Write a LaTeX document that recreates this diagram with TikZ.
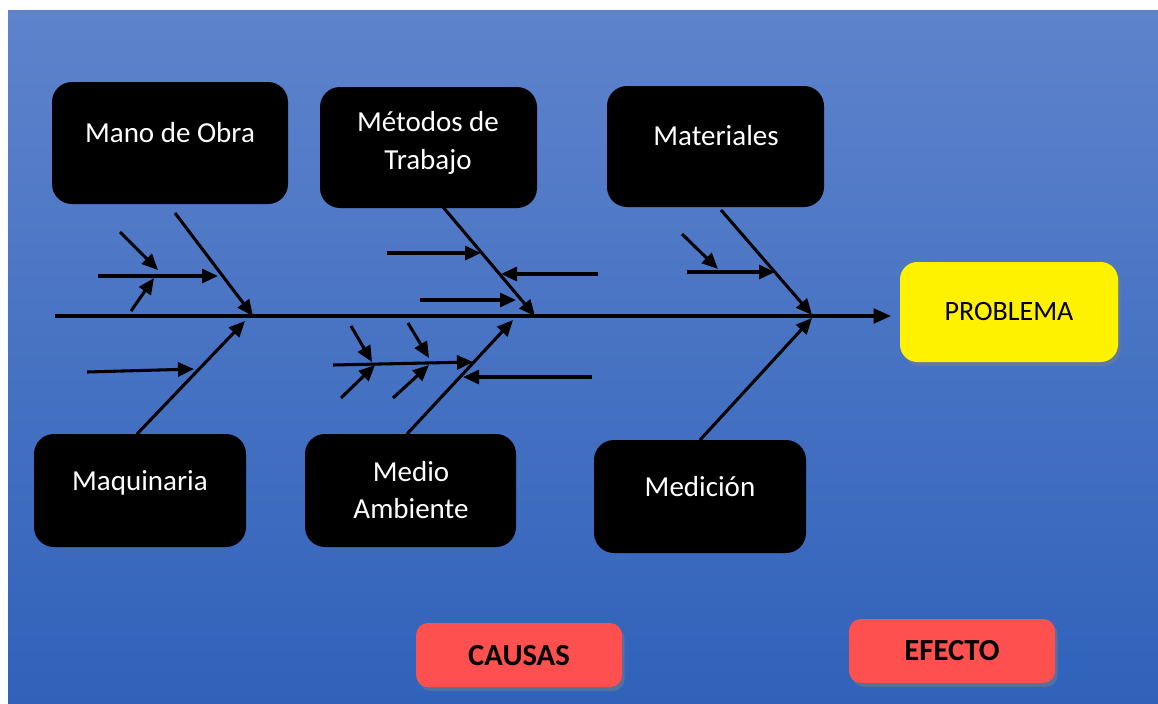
\documentclass[tikz,border=0pt]{standalone}
\usepackage{fontspec}
\setmainfont{Carlito}
\usetikzlibrary{arrows.meta,shadows}
\definecolor{bgtop}{RGB}{94,131,204}
\definecolor{bgbot}{RGB}{48,98,186}
\definecolor{redbox}{RGB}{255,80,80}
\begin{document}
\begin{tikzpicture}[x=0.75pt,y=-0.75pt,
  arr/.style={line width=2.3pt,-{Triangle[length=12pt,width=10.5pt]}},
  spine/.style={line width=2.3pt,-{Triangle[length=13pt,width=11pt]}},
  catbox/.style={fill=black,rounded corners=15pt,inner sep=0pt},
  cattxt/.style={text=white,font=\fontsize{21.75}{28}\selectfont,align=center,inner sep=0pt},
  tagbox/.style={fill=redbox,rounded corners=9pt,inner sep=0pt,minimum width=154.5pt,minimum height=48pt,
    drop shadow={opacity=0.45,shadow xshift=2pt,shadow yshift=-3pt}},
  tagtxt/.style={font=\fontsize{23}{28}\selectfont\bfseries,inner sep=0pt}]
\useasboundingbox (0,0) rectangle (1158,704);
\fill[white] (0,0) rectangle (1158,704);
\shade[top color=bgtop,bottom color=bgbot] (8,10) rectangle (1158,704);

% category boxes
\node[catbox,minimum width=177pt,minimum height=91.5pt] (mo) at (170,143) {};
\node[catbox,minimum width=162.75pt,minimum height=90.75pt] (mt) at (428.5,147.5) {};
\node[catbox,minimum width=162.75pt,minimum height=90.75pt] (ma) at (715.5,146.5) {};
\node[catbox,minimum width=159pt,minimum height=84.75pt] (mq) at (140,490.5) {};
\node[catbox,minimum width=158.25pt,minimum height=84.75pt] (me) at (410.5,490.5) {};
\node[catbox,minimum width=159pt,minimum height=84.75pt] (md) at (700,496.5) {};

\node[cattxt,anchor=base] (tmo) at (170,142) {Mano de Obra};
\node[cattxt] (tmt) at (428,143) {Métodos de\\Trabajo};
\node[cattxt,anchor=base] (tma) at (716,145) {Materiales};
\node[cattxt,anchor=base] (tmq) at (140,490) {Maquinaria};
\node[cattxt] (tme) at (411,490) {Medio\\Ambiente};
\node[cattxt,anchor=base] (tmd) at (700,496) {Medición};

% problem box
\node[fill=yellow,rounded corners=13pt,minimum width=163.5pt,minimum height=75pt,inner sep=0pt,
  drop shadow={opacity=0.45,shadow xshift=2pt,shadow yshift=-3pt},
  font=\fontsize{21}{26}\selectfont] (pb) at (1009,312) {PROBLEMA};

% labels
\node[tagbox] (ca) at (519,655) {};
\node[tagtxt] (tca) at (519,656) {CAUSAS};
\node[tagbox] (ef) at (952,651) {};
\node[tagtxt] (tef) at (952,651) {EFECTO};

% spine
\coordinate (s0) at (55,316);
\coordinate (s1) at (891,316);
\draw[spine] (s0) -- (s1);

% main bones
\coordinate (b1a) at (175,213); \coordinate (b1b) at (253,316);
\coordinate (b2a) at (443,207); \coordinate (b2b) at (535,316);
\coordinate (b3a) at (721,210); \coordinate (b3b) at (812,315);
\coordinate (b4a) at (137,434); \coordinate (b4b) at (245,321);
\coordinate (b5a) at (407,434); \coordinate (b5b) at (513,320);
\coordinate (b6a) at (700,440); \coordinate (b6b) at (812,318);
\draw[arr] (b1a) -- (b1b);
\draw[arr] (b2a) -- (b2b);
\draw[arr] (b3a) -- (b3b);
\draw[arr] (b4a) -- (b4b);
\draw[arr] (b5a) -- (b5b);
\draw[arr] (b6a) -- (b6b);

% minor arrows - Mano de Obra
\coordinate (m1a) at (98,276); \coordinate (m1b) at (218,276);
\coordinate (m2a) at (120,232); \coordinate (m2b) at (158,270);
\coordinate (m3a) at (131,311); \coordinate (m3b) at (154,278);
\draw[arr] (m1a) -- (m1b);
\draw[arr] (m2a) -- (m2b);
\draw[arr] (m3a) -- (m3b);
% Maquinaria
\coordinate (q1a) at (87,372); \coordinate (q1b) at (194,369);
\draw[arr] (q1a) -- (q1b);
% Metodos
\coordinate (t1a) at (387,253); \coordinate (t1b) at (481,253);
\coordinate (t2a) at (598,274); \coordinate (t2b) at (501,274);
\coordinate (t3a) at (420,300); \coordinate (t3b) at (516,300);
\draw[arr] (t1a) -- (t1b);
\draw[arr] (t2a) -- (t2b);
\draw[arr] (t3a) -- (t3b);
% Medio Ambiente
\coordinate (e1a) at (333,365); \coordinate (e1b) at (473,362);
\coordinate (e2a) at (592,377); \coordinate (e2b) at (463,377);
\coordinate (e3a) at (351,326); \coordinate (e3b) at (372,362);
\coordinate (e4a) at (408,323); \coordinate (e4b) at (429,358);
\coordinate (e5a) at (341,398); \coordinate (e5b) at (375,365);
\coordinate (e6a) at (393,398); \coordinate (e6b) at (429,365);
\draw[arr] (e1a) -- (e1b);
\draw[arr] (e2a) -- (e2b);
\draw[arr] (e3a) -- (e3b);
\draw[arr] (e4a) -- (e4b);
\draw[arr] (e5a) -- (e5b);
\draw[arr] (e6a) -- (e6b);
% Materiales
\coordinate (a1a) at (687,272); \coordinate (a1b) at (775,272);
\coordinate (a2a) at (682,234); \coordinate (a2b) at (718,269);
\draw[arr] (a1a) -- (a1b);
\draw[arr] (a2a) -- (a2b);
\end{tikzpicture}
\end{document}
